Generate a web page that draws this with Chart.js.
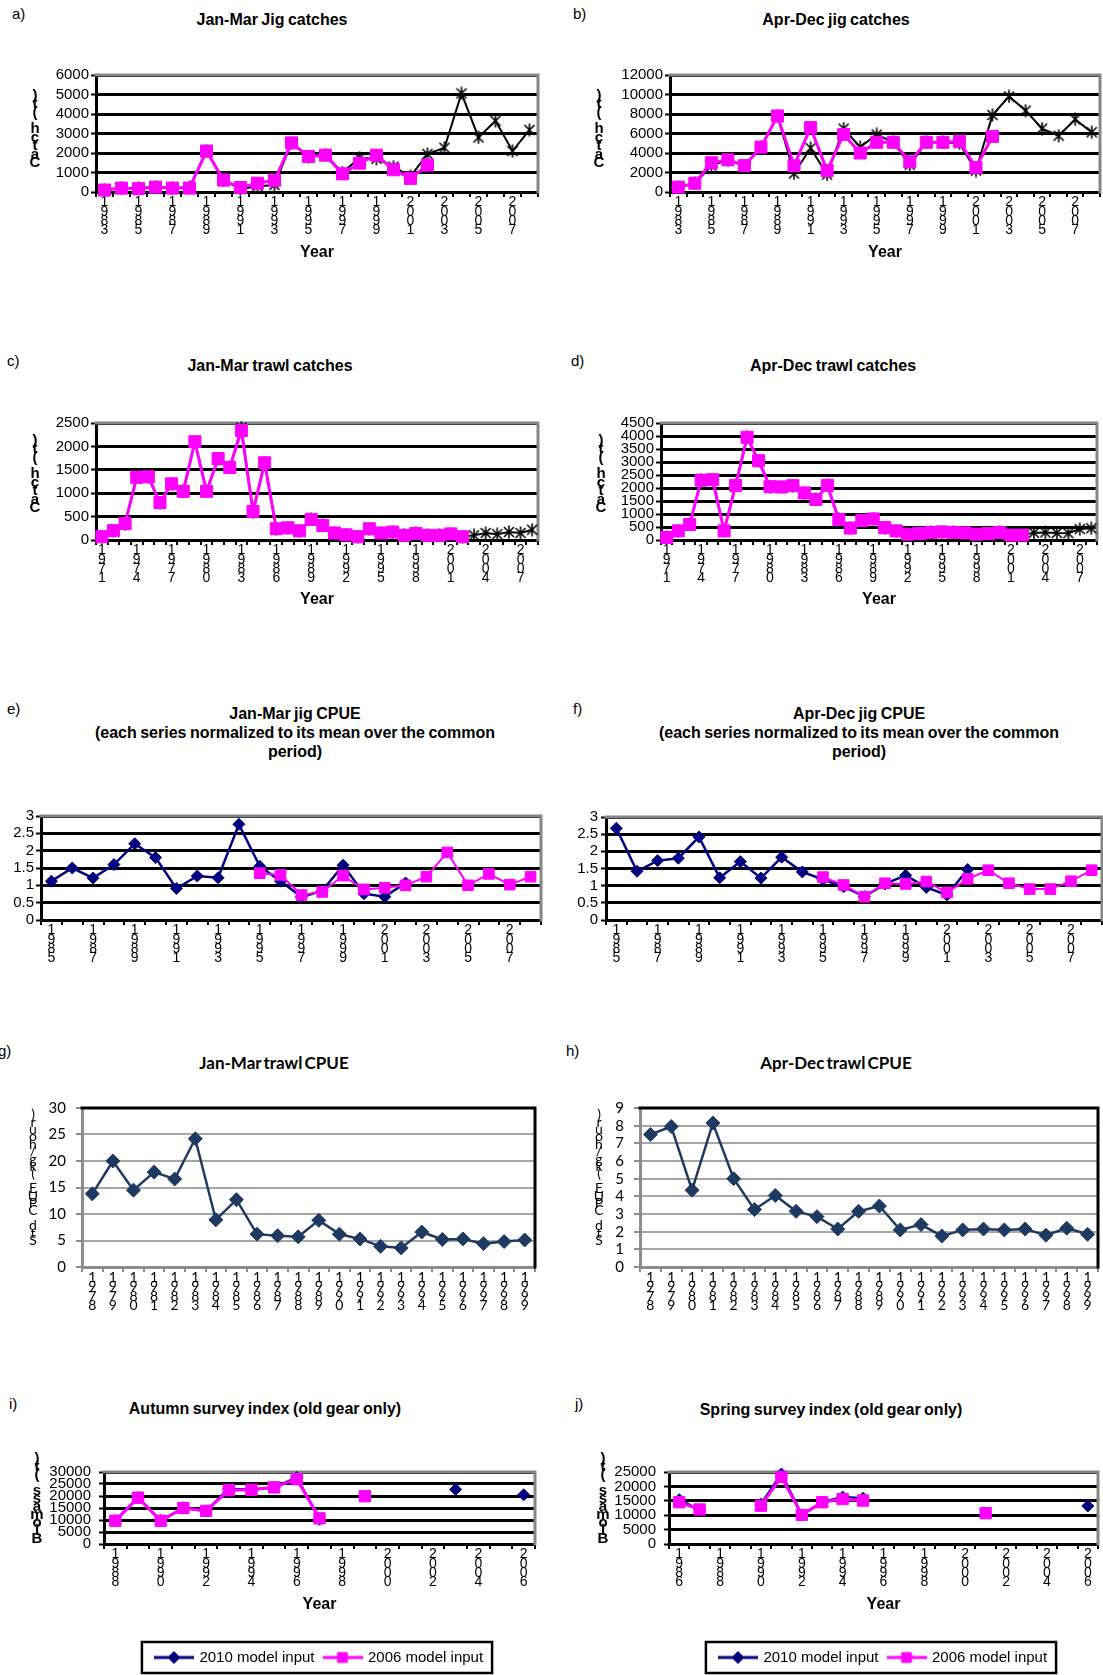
<!DOCTYPE html>
<html>
<head>
<meta charset="utf-8">
<script src="https://cdn.jsdelivr.net/npm/chart.js@4.4.1/dist/chart.umd.min.js"></script>
<style>
html,body{margin:0;padding:0;background:#fff;overflow:hidden;}
body{width:1103px;height:1675px;position:relative;font-family:"Liberation Sans",Arial,sans-serif;color:#000;}
canvas{position:absolute;}
.ttl{position:absolute;transform:translate(-50%,-50%);font-weight:bold;font-size:16px;line-height:19px;white-space:nowrap;text-align:center;word-spacing:-1px;}
.ttl.x07{font-family:Lato,sans-serif;font-size:17px;word-spacing:-2px;}
.let{position:absolute;font-size:15px;transform:translateY(-50%);}
.ystack{position:absolute;font-weight:bold;font-size:15px;text-align:center;width:20px;}
.ystack.x07{font-family:Lato,sans-serif;font-weight:normal;font-size:14px;}
.ystack span{display:block;}
</style>
</head>
<body>
<script>
/* ---------- DATA ---------- */
const yrs83 = [1983,1984,1985,1986,1987,1988,1989,1990,1991,1992,1993,1994,1995,1996,1997,1998,1999,2000,2001,2002,2003,2004,2005,2006,2007,2008];
const yrs71 = [1971,1972,1973,1974,1975,1976,1977,1978,1979,1980,1981,1982,1983,1984,1985,1986,1987,1988,1989,1990,1991,1992,1993,1994,1995,1996,1997,1998,1999,2000,2001,2002,2003,2004,2005,2006,2007,2008];
const yrs85 = [1985,1986,1987,1988,1989,1990,1991,1992,1993,1994,1995,1996,1997,1998,1999,2000,2001,2002,2003,2004,2005,2006,2007,2008];
const yrs78 = [1978,1979,1980,1981,1982,1983,1984,1985,1986,1987,1988,1989,1990,1991,1992,1993,1994,1995,1996,1997,1998,1999];
const yrs88 = [1988,1989,1990,1991,1992,1993,1994,1995,1996,1997,1998,1999,2000,2001,2002,2003,2004,2005,2006];
const yrs86 = [1986,1987,1988,1989,1990,1991,1992,1993,1994,1995,1996,1997,1998,1999,2000,2001,2002,2003,2004,2005,2006];

// a) Jan-Mar jig catches (t)
const jigJM06 = [100,200,170,250,200,200,2100,610,230,450,600,2520,1820,1890,930,1480,1890,1140,700,1380,null,null,null,null,null,null];
const jigJM10 = [100,200,200,250,200,250,2100,600,150,300,360,2520,1820,1890,1000,1750,1700,1300,800,1950,2270,5060,2800,3650,2100,3180];
// b) Apr-Dec jig catches (t)
const jigAD06 = [500,900,3000,3300,2700,4600,7800,2700,6600,2200,5900,4000,5100,5100,3100,5100,5100,5200,2500,5700,null,null,null,null,null,null];
const jigAD10 = [500,900,2700,3300,2700,4600,7800,1900,4500,1800,6500,4600,5900,5100,2800,5100,5100,5000,2200,7900,9800,8350,6500,5770,7450,6130];
// c) Jan-Mar trawl catches (t)
const trJM06 = [70,200,350,1340,1350,800,1200,1040,2100,1040,1740,1550,2340,610,1650,240,260,195,440,310,150,110,70,240,150,170,100,140,100,100,130,70,null,null,null,null,null,null];
const trJM10 = [70,200,350,1340,1350,800,1200,1040,2100,1040,1740,1550,2400,600,1650,240,260,195,440,310,150,110,70,240,150,170,100,140,100,100,130,70,100,150,125,170,150,220];
// d) Apr-Dec trawl catches (t)
const trAD06 = [100,350,600,2300,2320,350,2100,3950,3050,2050,2040,2090,1810,1560,2100,790,460,750,810,475,350,225,250,290,310,290,275,225,250,290,190,190,null,null,null,null,null,null];
const trAD10 = [100,350,600,2300,2320,350,2100,3950,3050,2050,2040,2090,1810,1560,2100,790,460,750,810,475,350,225,250,290,310,290,275,225,250,290,190,190,280,290,270,260,420,450];
// e) Jan-Mar jig CPUE (normalized)
const cpJM10 = [1.12,1.5,1.21,1.6,2.2,1.8,0.91,1.27,1.22,2.76,1.55,1.12,0.67,0.84,1.58,0.76,0.67,1.07,null,null,null,null,null,null];
const cpJM06 = [null,null,null,null,null,null,null,null,null,null,1.35,1.3,0.72,0.81,1.28,0.88,0.93,1.0,1.25,1.95,1.0,1.33,1.02,1.25];
// f) Apr-Dec jig CPUE (normalized)
const cpAD10 = [2.67,1.42,1.73,1.8,2.42,1.23,1.7,1.22,1.83,1.4,1.18,0.97,0.68,1.05,1.3,0.95,0.73,1.47,null,null,null,null,null,null];
const cpAD06 = [null,null,null,null,null,null,null,null,null,null,1.25,1.02,0.68,1.07,1.05,1.12,0.8,1.2,1.45,1.07,0.9,0.9,1.13,1.45];
// g) Jan-Mar trawl CPUE, h) Apr-Dec trawl CPUE
const trCpJM = [13.8,20,14.5,17.9,16.6,24.2,8.9,12.7,6.2,5.9,5.7,8.8,6.2,5.3,3.9,3.6,6.6,5.2,5.3,4.4,4.8,5.1];
const trCpAD = [7.5,7.95,4.35,8.15,5.0,3.25,4.05,3.15,2.85,2.15,3.15,3.45,2.1,2.4,1.75,2.1,2.15,2.1,2.15,1.8,2.2,1.85];
// i) Autumn survey index, j) Spring survey index
const autumn06 = [9700,19300,9700,15000,13800,22400,22600,23600,27000,10700,null,19900,null,null,null,null,null,null,null];
const autumn10 = [9700,19300,9700,15000,13800,23000,22600,23600,27700,10300,null,null,null,null,null,22750,null,null,20500];
const spring06 = [14500,12000,null,null,13300,23300,10100,14500,15600,15100,null,null,null,null,null,10700,null,null,null,null,null];
const spring10 = [15400,11800,null,null,13800,24300,10100,14500,16300,15900,null,null,null,null,null,null,null,null,null,null,13200];

const L10 = '2010 model input', L06 = '2006 model input';

/* ---------- STYLE ---------- */
const FONT = '"Liberation Sans", Arial, sans-serif';
const FONT07 = 'Lato, "Liberation Sans", sans-serif';
const MAG = '#ff00ff', NAVY = '#000080', DKBLUE = '#1f3a60';
const ICON_W = 36;
Chart.defaults.font.family = FONT;

/* excel style asterisk marker: an X with a vertical bar */
function starMarker(){
  const c = document.createElement('canvas'); c.width = 14; c.height = 14;
  const x = c.getContext('2d');
  x.strokeStyle = '#000'; x.lineWidth = 1.6;
  x.beginPath();
  x.moveTo(2,2); x.lineTo(12,12); x.moveTo(12,2); x.lineTo(2,12); x.moveTo(7,0.5); x.lineTo(7,13.5);
  x.stroke();
  return c;
}
const STAR = starMarker();

function mag(data, lw, r){
  return {label:L06, data, borderColor:MAG, backgroundColor:MAG, borderWidth:lw, pointStyle:'rect',
    pointRadius:r, pointBorderWidth:1, tension:0, spanGaps:false, clip:false};
}
function star(data){
  return {label:L10, data, borderColor:'#000', backgroundColor:'#000', borderWidth:2, pointStyle:STAR,
    pointRadius:7, tension:0, spanGaps:false, clip:false};
}
function diamond(data, color, lw, r){
  return {label:L10, data, borderColor:color, backgroundColor:color, borderWidth:lw, pointStyle:'rectRot',
    pointRadius:r, pointBorderWidth:1, tension:0, spanGaps:false, clip:false};
}

/* top + right edge of the plot area */
const framePlugin = {
  id:'frame',
  beforeDatasetsDraw(chart, args, o){
    const {ctx, chartArea:a} = chart;
    ctx.save();
    ctx.strokeStyle = o.color; ctx.lineWidth = o.width; ctx.lineCap = 'square';
    ctx.beginPath(); ctx.moveTo(a.left, a.top); ctx.lineTo(a.right, a.top); ctx.lineTo(a.right, a.bottom); ctx.stroke();
    ctx.restore();
  }
};
/* border around the legend */
const legendBoxPlugin = {
  id:'legendBox',
  afterDraw(chart, args, o){
    if(!o.display || !chart.legend) return;
    const hb = chart.legend.legendHitBoxes, items = chart.legend.legendItems;
    if(!hb || !hb.length) return;
    const ctx = chart.ctx;
    ctx.save();
    ctx.font = '15px ' + FONT;
    let w = 0;
    items.forEach((it, i) => { w += ICON_W + 7.5 + ctx.measureText(it.text).width + (i ? 10 : 0); });
    const x0 = hb[0].left - 14, x1 = hb[0].left + w + 9;
    const cy = hb[0].top + hb[0].height/2;
    ctx.strokeStyle = '#000'; ctx.lineWidth = 2.5;
    ctx.strokeRect(x0, cy - 15.5, x1 - x0, 31);
    ctx.restore();
  }
};

function legendIcon(color, style, r){
  const c = document.createElement('canvas'); c.width = 40; c.height = 18;
  const x = c.getContext('2d');
  x.strokeStyle = color; x.lineWidth = 3;
  x.beginPath(); x.moveTo(0, 9); x.lineTo(40, 9); x.stroke();
  x.fillStyle = color; x.lineWidth = 1;
  Chart.helpers.drawPoint(x, {pointStyle:style, radius:r, borderWidth:1, rotation:0}, 20, 9);
  return c;
}

/* plot rectangles [left, top, right, bottom] and axis space */
const LAYOUT = {
  a:{box:[96,72,538,192],   yW:96,  padR:6,  xH:72, yPad:2, year:253},
  b:{box:[670,72,1100,192], yW:104, padR:8,  xH:72, yPad:2, year:253},
  c:{box:[96,420,538,540],  yW:96,  padR:6,  xH:72, yPad:2, year:600},
  d:{box:[661,420,1097,540],yW:100, padR:10, xH:72, yPad:2, year:600},
  e:{box:[41,813,541,920],  yW:40,  padR:6,  xH:50, yPad:2},
  f:{box:[606,813,1102,920],yW:60,  padR:8,  xH:50, yPad:3},
  g:{box:[82,1097,535,1267],yW:80,  padR:6,  xH:50, yPad:10},
  h:{box:[640,1097,1098,1267],yW:80,padR:8,  xH:50, yPad:10},
  i:{box:[104,1463,535,1544],yW:100,padR:6,  xH:96, yPad:8, year:1605},
  j:{box:[669,1463,1098,1544],yW:100,padR:8, xH:96, yPad:8, year:1605}
};

function panel(g, labels, every, yMax, yStep, datasets, theme, withLegend){
  const [L, T, R, B] = g.box;
  const padT = 8, legH = withLegend ? 35 : 0;
  const W = g.yW + (R - L) + g.padR, H = padT + (B - T) + g.xH + legH;
  const cv = document.createElement('canvas');
  cv.width = W; cv.height = H;
  cv.style.left = (L - g.yW) + 'px'; cv.style.top = (T - padT) + 'px';
  cv.style.width = W + 'px'; cv.style.height = H + 'px';
  document.body.appendChild(cv);
  const x07 = theme === '07';
  const fam = x07 ? FONT07 : FONT;
  const gridCol = x07 ? '#a6a6a6' : '#000';
  const axisCol = x07 ? '#8c8c8c' : '#000';
  const legend = withLegend ? {
    display:true, position:'bottom', fullSize:false, reverse:true, maxHeight:35,
    labels:{usePointStyle:true, pointStyleWidth:ICON_W, padding:10, color:'#000', font:{family:FONT, size:15},
      generateLabels: ch => Chart.defaults.plugins.legend.labels.generateLabels(ch).map(it =>
        Object.assign(it, {pointStyle: it.text === L10 ? legendIcon(NAVY,'rectRot',6) : legendIcon(MAG,'rect',7)}))}
  } : {display:false};
  return new Chart(cv, {
    type:'line',
    data:{labels, datasets},
    options:{
      responsive:false, animation:false, devicePixelRatio:1, events:[],
      layout:{padding:{left:0, top:padT, right:g.padR, bottom:0}, autoPadding:false},
      plugins:{
        legend, tooltip:{enabled:false}, title:{display:false},
        frame:{color: x07 ? '#000' : '#868686', width:3},
        legendBox:{display:!!withLegend}
      },
      scales:{
        x:{
          type:'category', offset:true,
          grid:{display:true, drawOnChartArea:false, drawTicks:true, tickLength:5, offset:true,
                color:axisCol, tickColor:axisCol, tickWidth:2, lineWidth:2},
          border:{display:true, color:axisCol, width:3},
          ticks:{autoSkip:false, maxRotation:0, minRotation:0, padding:1, color:'#000',
                 font:{family:fam, size:14, lineHeight:0.66},
                 callback:(v, i) => i % every === 0 ? String(labels[i]).split('') : ''},
          title: g.year ? {display:true, text:'Year', color:'#000',
                 font:{family:FONT, size:16, weight:'bold'},
                 padding:{top:0, bottom: B + g.xH - 9.6 - g.year}} : {display:false},
          afterFit: s => { s.height = g.xH; }
        },
        y:{
          min:0, max:yMax,
          grid:{color:gridCol, lineWidth: x07 ? 2 : 3, drawTicks:true, tickLength: x07 ? 6 : 5,
                tickColor:axisCol, tickWidth:2},
          border:{display:true, color:axisCol, width:3},
          ticks:{stepSize:yStep, autoSkip:false, padding:g.yPad, color:'#000',
                 font:{family:fam, size:15}, callback: v => String(v)},
          afterFit: s => { s.width = g.yW; }
        }
      }
    },
    plugins:[framePlugin, legendBoxPlugin]
  });
}

/* ---------- CHARTS ---------- */
panel(LAYOUT.a, yrs83, 2, 6000, 1000, [mag(jigJM06,3,8.5), star(jigJM10)]);
panel(LAYOUT.b, yrs83, 2, 12000, 2000, [mag(jigAD06,3,8.5), star(jigAD10)]);
panel(LAYOUT.c, yrs71, 3, 2500, 500, [mag(trJM06,3,8.5), star(trJM10)]);
panel(LAYOUT.d, yrs71, 3, 4500, 500, [mag(trAD06,3,8.5), star(trAD10)]);
panel(LAYOUT.e, yrs85, 2, 3, 0.5, [mag(cpJM06,2,7.5), diamond(cpJM10,NAVY,2.5,6)]);
panel(LAYOUT.f, yrs85, 2, 3, 0.5, [mag(cpAD06,2,7.5), diamond(cpAD10,NAVY,2.5,6)]);
panel(LAYOUT.g, yrs78, 1, 30, 5, [diamond(trCpJM,DKBLUE,2.5,7)], '07');
panel(LAYOUT.h, yrs78, 1, 9, 1, [diamond(trCpAD,DKBLUE,2.5,7)], '07');
panel(LAYOUT.i, yrs88, 2, 30000, 5000, [mag(autumn06,3,8), diamond(autumn10,NAVY,2.5,6)], '03', true);
panel(LAYOUT.j, yrs86, 2, 25000, 5000, [mag(spring06,3,8), diamond(spring10,NAVY,2.5,6)], '03', true);

/* ---------- TEXT ---------- */
const TITLES = [
  ['Jan-Mar Jig catches', 272, 19],
  ['Apr-Dec jig catches', 836, 19],
  ['Jan-Mar trawl catches', 270, 365],
  ['Apr-Dec trawl catches', 833, 365],
  ['Jan-Mar jig CPUE<br>(each series normalized to its mean over the common<br>period)', 295, 732],
  ['Apr-Dec jig CPUE<br>(each series normalized to its mean over the common<br>period)', 859, 732],
  ['Jan-Mar trawl CPUE', 274, 1062, 'x07'],
  ['Apr-Dec trawl CPUE', 836, 1062, 'x07'],
  ['Autumn survey index (old gear only)', 265, 1408],
  ['Spring survey index (old gear only)', 831, 1409]
];
TITLES.forEach(([t, x, y, c]) => {
  const d = document.createElement('div');
  d.className = 'ttl' + (c ? ' ' + c : '');
  d.innerHTML = t; d.style.left = x + 'px'; d.style.top = y + 'px';
  document.body.appendChild(d);
});

const LETTERS = [['a)',12,13],['b)',573,13],['c)',7,360],['d)',571,360],['e)',7,708],['f)',573,708],
                 ['g)',-2,1050],['h)',566,1050],['i)',9,1403],['j)',575,1403]];
LETTERS.forEach(([t, x, y]) => {
  const d = document.createElement('div');
  d.className = 'let'; d.textContent = t; d.style.left = x + 'px'; d.style.top = y + 'px';
  document.body.appendChild(d);
});

/* y-axis titles, characters stacked bottom-to-top */
const YTITLES = [
  ['Catch (t)', 35, 95, 8.4], ['Catch (t)', 599, 95, 8.4],
  ['Catch (t)', 35, 440, 8.4], ['Catch (t)', 601, 440, 8.4],
  ['Std CPUE (kg/hour)', 33, 1114, 7.4, 'x07'], ['Std CPUE (kg/hour)', 599, 1114, 7.4, 'x07'],
  ['Biomass (t)', 37, 1458, 8], ['Biomass (t)', 603, 1458, 8]
];
YTITLES.forEach(([t, x, y, lh, c]) => {
  const d = document.createElement('div');
  d.className = 'ystack' + (c ? ' ' + c : '');
  d.style.left = (x - 10) + 'px'; d.style.top = (y - lh/2) + 'px'; d.style.lineHeight = lh + 'px';
  t.split('').reverse().forEach(ch => {
    const s = document.createElement('span');
    s.style.height = lh + 'px';
    s.textContent = ch === ' ' ? '\u00a0' : ch;
    d.appendChild(s);
  });
  document.body.appendChild(d);
});
</script>
</body>
</html>
